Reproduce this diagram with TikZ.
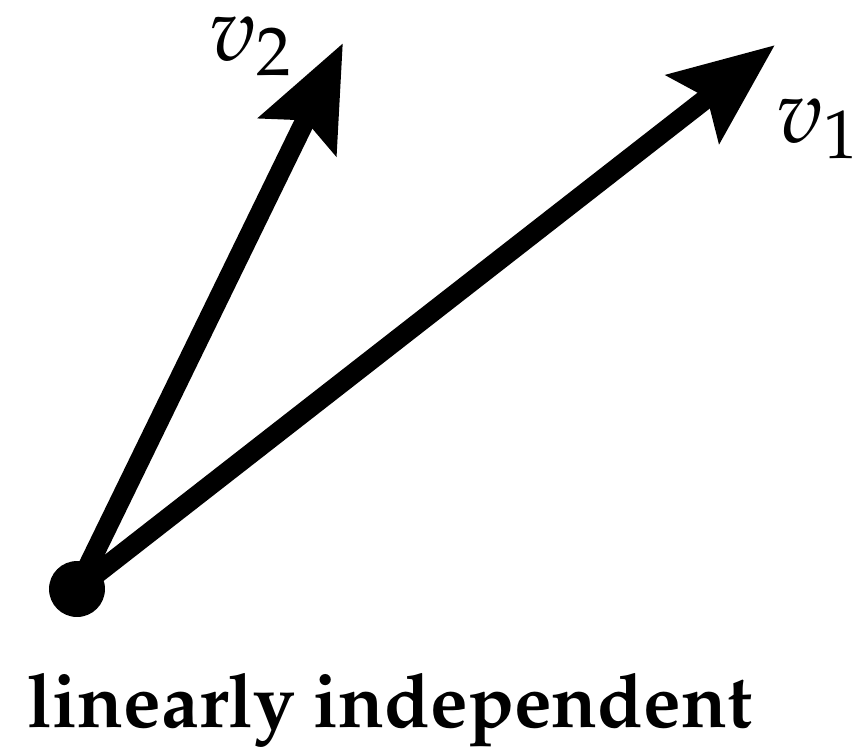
\documentclass[tikz,border=0pt]{standalone}
\usepackage[T1]{fontenc}
\usepackage{mathpazo}
\usetikzlibrary{arrows.meta,positioning}

\begin{document}
\begin{tikzpicture}[x=0.005cm,y=-0.005cm,
   vec/.style={line width=0.1cm,-{Stealth[length=0.515cm,width=0.42cm,inset=0.085cm]}},
   lbl/.style={anchor=base west,inner sep=0pt,font=\fontsize{12.9}{15}\selectfont}]
  \useasboundingbox (0,0) rectangle (855,746);
  \coordinate (o) at (77,589);
  \coordinate (t1) at (775,45);
  \coordinate (t2) at (343,43);
  \draw[vec] (o) -- (t1);
  \draw[vec] (o) -- (t2);
  \fill (o) circle[radius=0.14cm];
  \node[lbl] (l1) at (775,142) {$v_1$};
  \node[lbl] (l2) at (208,60) {$v_2$};
  \node[anchor=base,inner sep=0pt,font=\fontsize{10.7}{13}\selectfont\bfseries] (cap) at (390,727) {linearly independent};
\end{tikzpicture}
\end{document}
